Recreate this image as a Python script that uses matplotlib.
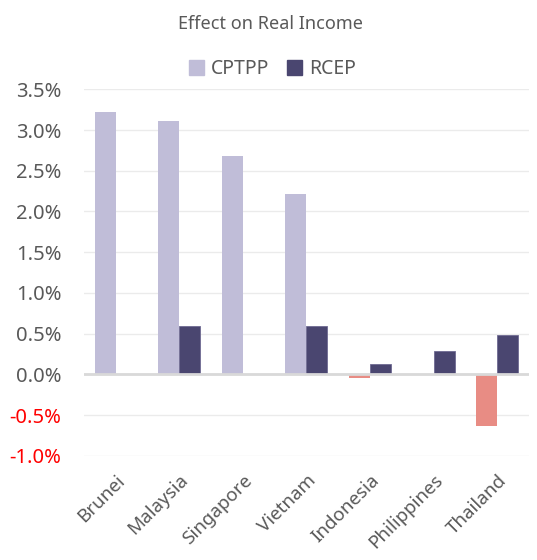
import matplotlib
matplotlib.use("Agg")
import matplotlib.pyplot as plt
import numpy as np
from matplotlib.patches import Patch

countries = ["Brunei", "Malaysia", "Singapore", "Vietnam", "Indonesia", "Philippines", "Thailand"]
cptpp = [3.22, 3.11, 2.68, 2.21, -0.05, 0.0, -0.63]
rcep = [0.0, 0.59, 0.0, 0.60, 0.13, 0.29, 0.48]
yticks = [-1.0, -0.5, 0.0, 0.5, 1.0, 1.5, 2.0, 2.5, 3.0, 3.5]

c_cptpp = "#C0BDD8"
c_rcep = "#4A4670"
c_neg = "#E88C84"
text_c = "#595959"

plt.rcParams["font.family"] = ["Noto Sans", "DejaVu Sans"]

fig = plt.figure(figsize=(5.37, 5.6), dpi=100)
ax = fig.add_axes([0.156, 0.186, 0.829, 0.6545])

x = np.arange(len(countries))
w = 0.33
cols = [c_neg if v < 0 else c_cptpp for v in cptpp]
ax.bar(x - w / 2, cptpp, w, color=cols, zorder=3)
ax.bar(x + w / 2, rcep, w, color=c_rcep, edgecolor="#6F6B92", linewidth=0.6, zorder=3)

ax.set_xlim(-0.5, len(countries) - 0.5)
ax.set_ylim(-1.0, 3.5)
ax.set_yticks(yticks)
ax.set_yticklabels([f"{v:.1f}%" for v in yticks], fontsize=14.5)
for lab, v in zip(ax.get_yticklabels(), yticks):
    lab.set_color("#FF0000" if v < 0 else text_c)

ax.set_xticks(x)
ax.set_xticklabels(countries, rotation=45, ha="right", rotation_mode="anchor",
                   fontsize=13.5, color=text_c)
ax.tick_params(axis="both", length=0)
ax.tick_params(axis="y", pad=16)
ax.tick_params(axis="x", pad=11)

ax.grid(axis="y", color="#EBEBEB", linewidth=1, zorder=0)
ax.axhline(0, color="#D9D9D9", linewidth=2, zorder=4)
for s in ax.spines.values():
    s.set_visible(False)

fig.text(0.503, 0.958, "Effect on Real Income", ha="center", va="center",
         fontsize=13, color=text_c)
handles = [Patch(color=c_cptpp, label="CPTPP"), Patch(color=c_rcep, label="RCEP")]
fig.legend(handles=handles, loc="center", bbox_to_anchor=(0.507, 0.877), ncol=2,
           frameon=False, fontsize=14, handlelength=0.8, handleheight=0.8,
           handletextpad=0.35, columnspacing=0.9, labelcolor=text_c)

fig.savefig("out.png", dpi=100)
